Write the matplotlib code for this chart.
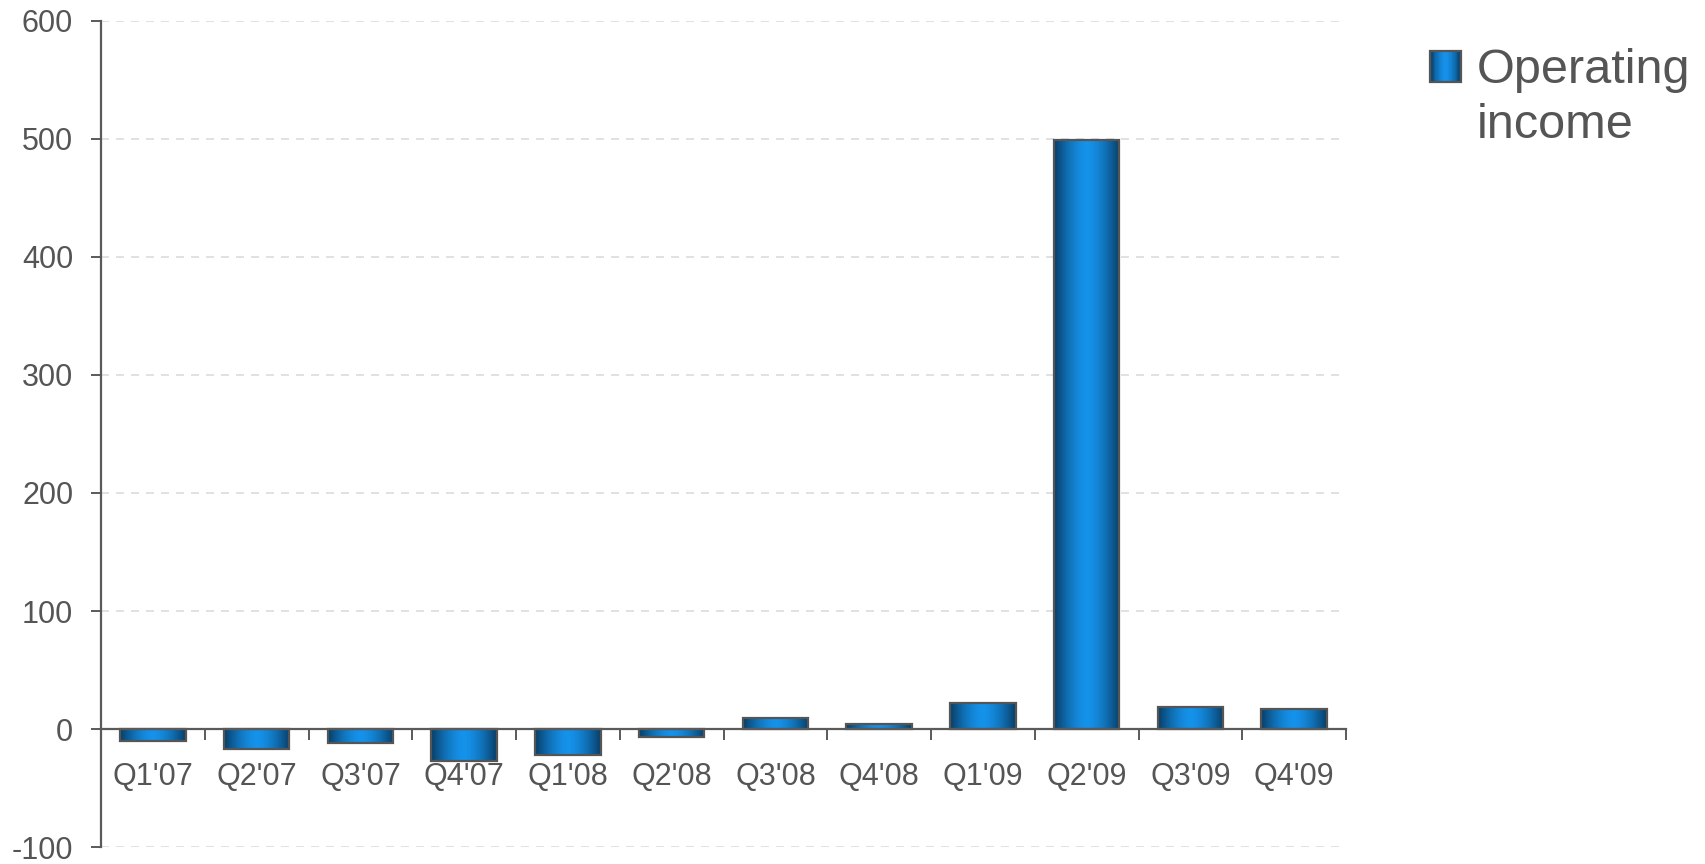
import numpy as np
import matplotlib
matplotlib.use("Agg")
import matplotlib.pyplot as plt
from matplotlib.patches import Rectangle
from matplotlib.colors import to_rgb

quarters = ["Q1'07", "Q2'07", "Q3'07", "Q4'07", "Q1'08", "Q2'08",
            "Q3'08", "Q4'08", "Q1'09", "Q2'09", "Q3'09", "Q4'09"]
operating_income = [-10, -17, -12, -27, -22, -7, 9, 4, 22, 499, 19, 17]
y_ticks = [-100, 0, 100, 200, 300, 400, 500, 600]
series_lines = ["Operating", "income"]

plt.rcParams["font.family"] = ["Liberation Sans", "DejaVu Sans"]
TEXT = "#555555"
AXIS = "#5a5a5a"
EDGE_DARK = np.array(to_rgb("#083d66"))
CENTER = np.array(to_rgb("#1592ea"))

W, H = 1706, 864


def gradient_colors(n):
    t = np.abs(np.linspace(-1, 1, n))
    w = t ** 1.6
    return CENTER[None, :] * (1 - w[:, None]) + EDGE_DARK[None, :] * w[:, None]


fig = plt.figure(figsize=(W / 100, H / 100), dpi=100)
ax = fig.add_axes([0.0592, 0.0195, 0.7298, 0.9565])

x = np.arange(len(quarters))
width = 0.63
bars = ax.bar(x, operating_income, width=width, facecolor="none",
              edgecolor="#555555", linewidth=1.6, zorder=4)

grad = gradient_colors(256)[None, :, :]
for b in bars:
    x0, y0 = b.get_x(), b.get_y()
    w, h = b.get_width(), b.get_height()
    ylo, yhi = min(y0, y0 + h), max(y0, y0 + h)
    ax.imshow(grad, extent=(x0, x0 + w, ylo, yhi), aspect="auto",
              interpolation="bilinear", zorder=3)

ax.set_xlim(-0.5, len(quarters) - 0.5)
ax.set_ylim(y_ticks[0], y_ticks[-1])
ax.set_yticks(y_ticks)
ax.set_yticklabels([str(v) for v in y_ticks])

# boundary ticks on the zero line, labels centred under each bar
ax.set_xticks(np.arange(len(quarters) + 1) - 0.5)
ax.set_xticklabels([])
ax.set_xticks(x, minor=True)
ax.set_xticklabels(quarters, minor=True)
ax.tick_params(axis="x", which="major", direction="out", length=8,
               width=1.4, color=AXIS)
ax.tick_params(axis="x", which="minor", length=0, pad=24,
               labelsize=22, labelcolor=TEXT)
ax.tick_params(axis="y", direction="out", length=7, width=1.4, color=AXIS,
               pad=13, labelsize=22, labelcolor=TEXT)

for side in ("top", "right"):
    ax.spines[side].set_visible(False)
ax.spines["bottom"].set_position(("data", 0))
ax.spines["bottom"].set_color(AXIS)
ax.spines["bottom"].set_linewidth(1.6)
ax.spines["bottom"].set_zorder(5)
ax.spines["left"].set_color(AXIS)
ax.spines["left"].set_linewidth(1.6)

ax.grid(axis="y", color="#dcdcdc", linestyle=(0, (4.8, 4.2)), linewidth=1.2,
        zorder=0)
ax.set_axisbelow(True)

# legend: gradient swatch and two-line label
sx, sy, ss = 1430 / W, 1 - 81.7 / H, 31 / W
sh = 31 / H
n = 24
cols = gradient_colors(n)
for i in range(n):
    fig.patches.append(Rectangle((sx + ss * i / n, sy), ss / n * 1.05, sh,
                                 facecolor=cols[i], edgecolor="none",
                                 transform=fig.transFigure, zorder=3))
fig.patches.append(Rectangle((sx, sy), ss, sh, facecolor="none",
                             edgecolor="#555555", linewidth=1.6,
                             transform=fig.transFigure, zorder=4))
for line, base in zip(series_lines, (83, 138)):
    fig.text(1477 / W, 1 - base / H, line, fontsize=35, color=TEXT,
             ha="left", va="baseline")

fig.savefig("out.png", dpi=100)
